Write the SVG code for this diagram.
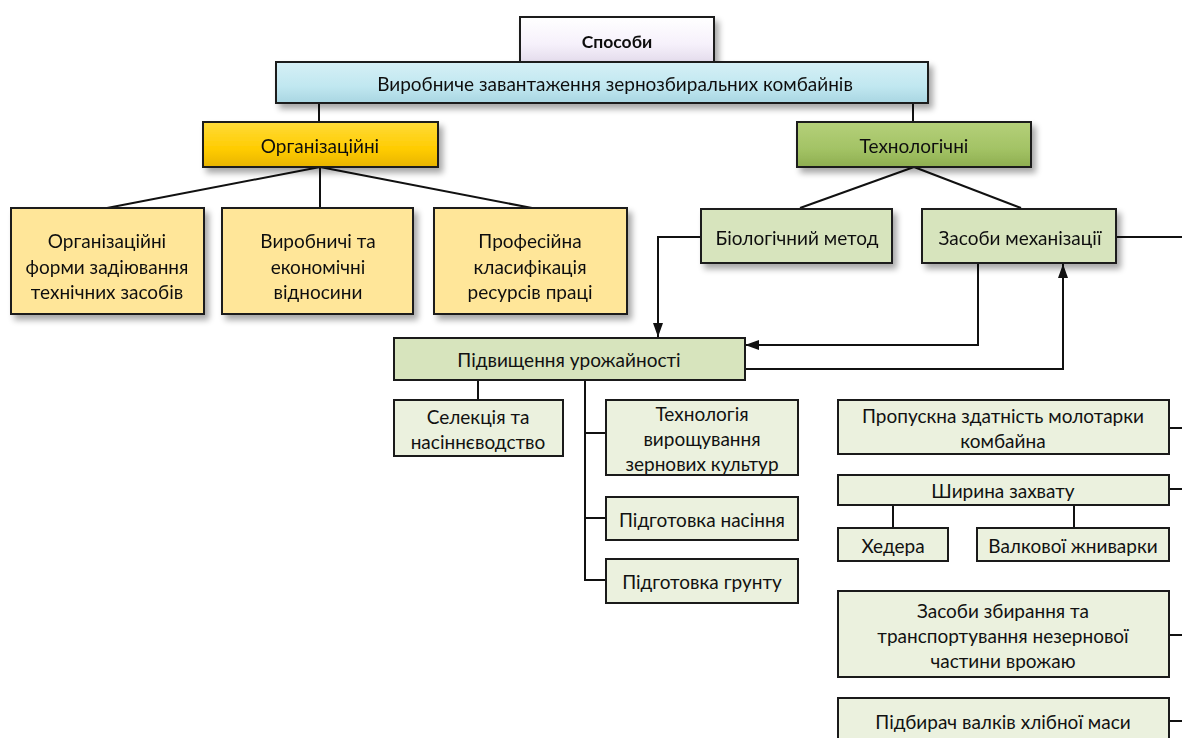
<svg xmlns="http://www.w3.org/2000/svg" width="1182" height="738" viewBox="0 0 1182 738">
<defs>
<style>
text{font-family:"Lato","Liberation Sans",sans-serif;font-size:19px;fill:#111;text-anchor:middle;dominant-baseline:central}
.b{stroke:#1a1a1a;stroke-width:2}
.ln{fill:none;stroke:#111;stroke-width:2}
.y{fill:#FFE699}
.g{fill:#D7E4BD}
.lg{fill:#EBF1DE}
</style>
<filter id="sh" x="-10%" y="-20%" width="125%" height="160%">
<feGaussianBlur in="SourceAlpha" stdDeviation="3"/>
<feOffset dx="4" dy="5" result="o"/>
<feComponentTransfer><feFuncA type="linear" slope="0.35"/></feComponentTransfer>
<feMerge><feMergeNode/><feMergeNode in="SourceGraphic"/></feMerge>
</filter>
<linearGradient id="gw" x1="0" y1="0" x2="0" y2="1"><stop offset="0" stop-color="#ffffff"/><stop offset="0.6" stop-color="#f6f1fb"/><stop offset="1" stop-color="#e4dcec"/></linearGradient>
<linearGradient id="gb" x1="0" y1="0" x2="0" y2="1"><stop offset="0" stop-color="#d6f0f6"/><stop offset="0.6" stop-color="#c0e7f0"/><stop offset="1" stop-color="#a9d6e2"/></linearGradient>
<linearGradient id="go" x1="0" y1="0" x2="0" y2="1"><stop offset="0" stop-color="#ffdb3a"/><stop offset="0.6" stop-color="#ffcc00"/><stop offset="1" stop-color="#e8b400"/></linearGradient>
<linearGradient id="gt" x1="0" y1="0" x2="0" y2="1"><stop offset="0" stop-color="#b5d07a"/><stop offset="0.6" stop-color="#a3c365"/><stop offset="1" stop-color="#8eae50"/></linearGradient>
<marker id="ar2" viewBox="0 0 14 10" refX="14" refY="5" markerWidth="14" markerHeight="10" orient="auto" markerUnits="userSpaceOnUse">
<path d="M0,0 L14,5 L0,10 z" fill="#111"/>
</marker>
</defs>
<rect width="1182" height="738" fill="#fff"/>

<g id="connectors">
<line class="ln" x1="319" y1="103" x2="319" y2="122"/>
<line class="ln" x1="913" y1="103" x2="913" y2="122"/>
<line class="ln" x1="320" y1="167" x2="107" y2="208"/>
<line class="ln" x1="320" y1="167" x2="320" y2="208"/>
<line class="ln" x1="320" y1="167" x2="532" y2="208"/>
<line class="ln" x1="914" y1="167" x2="800" y2="208"/>
<line class="ln" x1="914" y1="167" x2="1021" y2="208"/>
<line class="ln" x1="1116" y1="237" x2="1182" y2="237"/>
<path class="ln" d="M701,237 H658 V337" marker-end="url(#ar2)"/>
<path class="ln" d="M978,263 V345 H745" marker-end="url(#ar2)"/>
<path class="ln" d="M745,369 H1063 V264" marker-end="url(#ar2)"/>
<line class="ln" x1="478" y1="380" x2="478" y2="400"/>
<path class="ln" d="M585,380 V580 H605 M585,433 H605 M585,518 H605"/>
<line class="ln" x1="1169" y1="428" x2="1182" y2="428"/>
<line class="ln" x1="1169" y1="489" x2="1182" y2="489"/>
<line class="ln" x1="893" y1="505" x2="893" y2="528"/>
<line class="ln" x1="1074" y1="505" x2="1074" y2="528"/>
<line class="ln" x1="1169" y1="635" x2="1182" y2="635"/>
<line class="ln" x1="1169" y1="721" x2="1182" y2="721"/>
</g>

<g id="n-sposoby" filter="url(#sh)"><rect class="b" x="520" y="17" width="194" height="45" fill="url(#gw)"/><text x="617" y="41" font-weight="bold" style="font-size:17.5px">Способи</text></g>
<g id="n-vyrobnyche" filter="url(#sh)"><rect class="b" x="276" y="62" width="652" height="41" fill="url(#gb)"/><text x="615" y="83">Виробниче завантаження зернозбиральних комбайнів</text></g>
<g id="n-org" filter="url(#sh)"><rect class="b" x="203" y="122" width="235" height="45" fill="url(#go)"/><text x="320" y="145">Організаційні</text></g>
<g id="n-tech" filter="url(#sh)"><rect class="b" x="797" y="122" width="234" height="45" fill="url(#gt)"/><text x="914" y="145">Технологічні</text></g>

<g id="n-org-forms" filter="url(#sh)"><rect class="b y" x="11" y="208" width="193" height="106"/><text x="107" y="240">Організаційні</text><text x="107" y="266">форми задіювання</text><text x="107" y="291">технічних засобів</text></g>
<g id="n-vyrob-ekon" filter="url(#sh)"><rect class="b y" x="222" y="208" width="191" height="106"/><text x="318" y="240">Виробничі та</text><text x="318" y="266">економічні</text><text x="318" y="291">відносини</text></g>
<g id="n-prof" filter="url(#sh)"><rect class="b y" x="434" y="208" width="193" height="106"/><text x="530" y="240">Професійна</text><text x="530" y="266">класифікація</text><text x="530" y="291">ресурсів праці</text></g>

<g id="n-bio" filter="url(#sh)"><rect class="b g" x="701" y="209" width="191" height="54"/><text x="797" y="237">Біологічний метод</text></g>
<g id="n-mech" filter="url(#sh)"><rect class="b g" x="922" y="209" width="194" height="54"/><text x="1020" y="237">Засоби механізації</text></g>

<g id="n-urozh"><rect class="b g" x="394" y="338" width="351" height="42"/><text x="569" y="359">Підвищення урожайності</text></g>
<g id="n-selek"><rect class="b lg" x="394" y="400" width="169" height="56"/><text x="478" y="416">Селекція та</text><text x="478" y="441">насіннєводство</text></g>
<g id="n-tehnol-vyr"><rect class="b lg" x="606" y="400" width="192" height="75"/><text x="702" y="413">Технологія</text><text x="702" y="438">вирощування</text><text x="702" y="463">зернових культур</text></g>
<g id="n-pidg-nas"><rect class="b lg" x="606" y="497" width="192" height="43"/><text x="702" y="519">Підготовка насіння</text></g>
<g id="n-pidg-grunt"><rect class="b lg" x="606" y="559" width="192" height="44"/><text x="702" y="581">Підготовка грунту</text></g>

<g id="n-propusk"><rect class="b lg" x="838" y="400" width="331" height="54"/><text x="1003" y="415">Пропускна здатність молотарки</text><text x="1003" y="440">комбайна</text></g>
<g id="n-shyryna"><rect class="b lg" x="838" y="475" width="331" height="30"/><text x="1003" y="490">Ширина захвату</text></g>
<g id="n-hedera"><rect class="b lg" x="838" y="528" width="110" height="33"/><text x="893" y="545">Хедера</text></g>
<g id="n-valk"><rect class="b lg" x="977" y="528" width="192" height="33"/><text x="1073" y="545">Валкової жниварки</text></g>
<g id="n-zasoby-zbyr"><rect class="b lg" x="838" y="591" width="331" height="86"/><text x="1003" y="610">Засоби збирання та</text><text x="1003" y="635">транспортування незернової</text><text x="1003" y="660">частини врожаю</text></g>
<g id="n-pidbyr"><rect class="b lg" x="838" y="698" width="331" height="50"/><text x="1003" y="721">Підбирач валків хлібної маси</text></g>
</svg>
